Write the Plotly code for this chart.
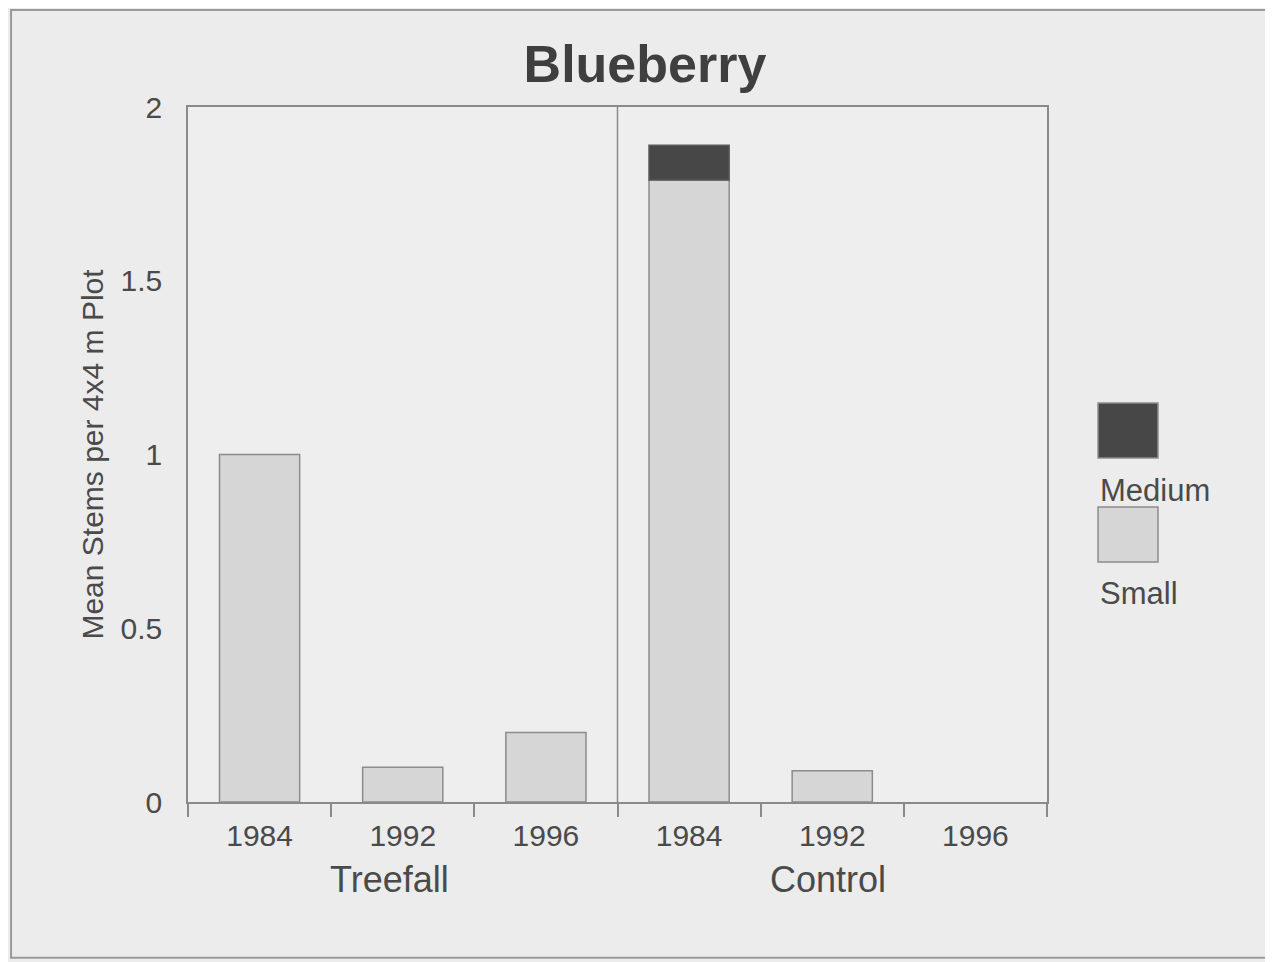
import plotly.graph_objects as go

# ---- data ----
groups = ["Treefall", "Control"]
years = ["1984", "1992", "1996", "1984", "1992", "1996"]
small = [1.0, 0.1, 0.2, 1.79, 0.09, 0.0]
medium = [0.0, 0.0, 0.0, 0.1, 0.0, 0.0]
ytick_vals = [0, 0.5, 1, 1.5, 2]
ytick_text = ["0", "0.5", "1", "1.5", "2"]

FONT = "Liberation Sans, Arial, sans-serif"
TXT = "#4a4a4a"
AX = "#8a8a8a"
BG = "#ececec"

centers = [i + 0.5 for i in range(len(years))]
bounds = list(range(len(years) + 1))

# keep only non-zero segments (zero-height bars would draw a stray outline)
s_idx = [i for i, v in enumerate(small) if v > 0]
m_idx = [i for i, v in enumerate(medium) if v > 0]

fig = go.Figure()
fig.add_trace(go.Bar(x=[centers[i] for i in s_idx], y=[small[i] for i in s_idx],
                     name="Small", width=0.56,
                     marker=dict(color="#d6d6d6", line=dict(color="#8c8c8c", width=1.5)),
                     showlegend=False))
fig.add_trace(go.Bar(x=[centers[i] for i in m_idx], y=[medium[i] for i in m_idx],
                     base=[small[i] for i in m_idx],
                     name="Medium", width=0.56,
                     marker=dict(color="#474747", line=dict(color="#5a5a5a", width=1.5)),
                     showlegend=False))

# page body has an 8px margin, so the figure is slightly smaller
W, H = 1265, 954
fig.update_layout(
    barmode="overlay",
    width=W, height=H,
    paper_bgcolor=BG, plot_bgcolor="#eeeeee",
    margin=dict(l=180, r=226, t=99, b=160),
    font=dict(family=FONT, color=TXT, size=29),
    title=dict(text="<b>Blueberry</b>", x=(645 - 8) / W, xanchor="center",
               y=1 - (64 - 8) / H, yanchor="middle", yref="container",
               font=dict(size=52, color="#3f3f3f")),
    showlegend=False,
)

fig.update_xaxes(
    range=[0, 6], tickvals=centers, ticktext=years, ticks="",
    ticklabelstandoff=6,
    tickfont=dict(size=30, color=TXT),
    showline=True, linecolor=AX, linewidth=1.5, mirror=True,
    showgrid=False, zeroline=False,
    minor=dict(tickvals=bounds, ticks="outside", ticklen=13, tickcolor=AX, tickwidth=1.5, showgrid=False),
)
fig.update_yaxes(
    range=[0, 2], tickvals=ytick_vals, ticktext=ytick_text, ticks="",
    ticklabelstandoff=18,
    tickfont=dict(size=30, color=TXT),
    showline=True, linecolor=AX, linewidth=1.5, mirror=True,
    showgrid=False, zeroline=False,
    title=dict(text="Mean Stems per 4x4 m Plot", standoff=8, font=dict(size=30, color=TXT)),
)

# divider between groups
fig.add_shape(type="line", xref="x", yref="paper", x0=3, x1=3, y0=0, y1=1,
              line=dict(color=AX, width=1.5))

# group labels
for g, gx in zip(groups, [1.41, 4.47]):
    fig.add_annotation(x=gx, y=-0.112, xref="x", yref="paper", text=g,
                       showarrow=False, font=dict(size=36, color=TXT),
                       xanchor="center", yanchor="middle")

# outer frame
fig.add_shape(type="rect", xref="paper", yref="paper", x0=-0.206, x1=1.30, y0=-0.224, y1=1.1396,
              line=dict(color="#9a9a9a", width=2), fillcolor="rgba(0,0,0,0)", layer="below")

# legend (swatches + labels)
leg = [("Medium", "#474747", 0.5741, 0.4950, 0.4489),
       ("Small", "#d6d6d6", 0.4245, 0.3453, 0.3007)]
for name, col, y1, y0, ty in leg:
    fig.add_shape(type="rect", xref="paper", yref="paper", x0=1.0594, x1=1.1292, y0=y0, y1=y1,
                  fillcolor=col, line=dict(color="#8c8c8c", width=1.5))
    fig.add_annotation(x=1.0594, y=ty, xref="paper", yref="paper", text=name, showarrow=False,
                       xanchor="left", yanchor="middle", font=dict(size=31, color=TXT))

fig.write_html("out.html")
